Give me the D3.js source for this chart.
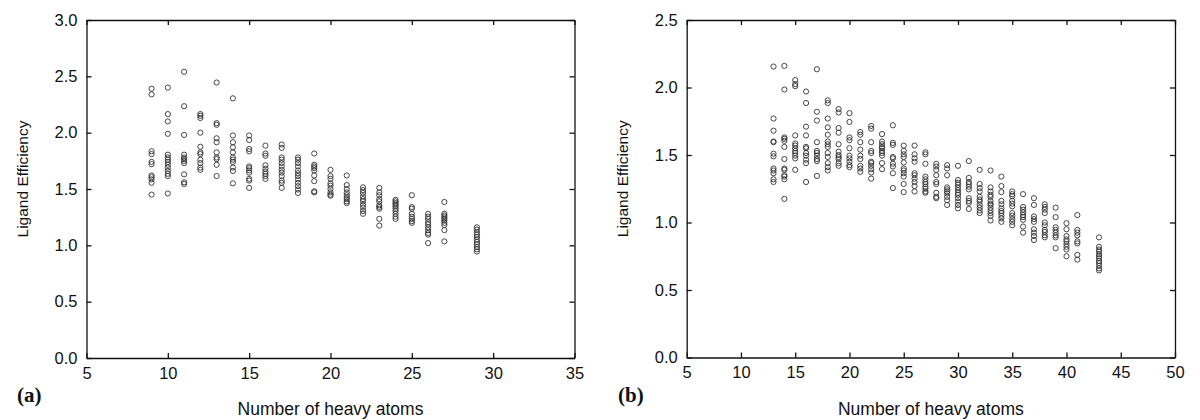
<!DOCTYPE html>
<html lang="en">
<head>
    <meta charset="UTF-8">
    <title>Ligand efficiency vs heavy atoms</title>
    <script src="https://cdnjs.cloudflare.com/ajax/libs/d3/7.8.5/d3.min.js"></script>
    <style>
        body {
            margin: 0;
            padding: 0;
            background: #fff;
        }
        svg text {
            font-family: "Liberation Sans", Arial, sans-serif;
            fill: #111;
        }
        .tick text {
            font-size: 16.5px;
        }
        .axis path, .axis line {
            stroke: #111;
            stroke-width: 1.3px;
        }
        .pt {
            fill: none;
            stroke: #333;
            stroke-width: 0.9px;
        }
        .panel-label {
            font-family: "Liberation Serif", "DejaVu Serif", serif !important;
            font-weight: bold;
            font-size: 21px;
        }
    </style>
</head>
<body>
<div id="chart"></div>
<script>
    // panel (a)
    const atomsA = [9, 10, 11, 12, 13, 14, 15, 16, 17, 18, 19, 20, 21, 22, 23, 24, 25, 26, 27, 29];
    const effA = [
        [2.39, 2.34, 1.835, 1.81, 1.74, 1.72, 1.62, 1.605, 1.585, 1.555, 1.45],
        [2.40, 2.165, 2.10, 1.99, 1.805, 1.78, 1.76, 1.74, 1.715, 1.69, 1.66, 1.635, 1.615, 1.46],
        [2.54, 2.235, 1.98, 1.805, 1.78, 1.765, 1.75, 1.73, 1.63, 1.56, 1.545],
        [2.165, 2.15, 2.13, 2.00, 1.875, 1.825, 1.81, 1.76, 1.73, 1.69, 1.67],
        [2.445, 2.085, 2.07, 1.95, 1.915, 1.825, 1.78, 1.765, 1.715, 1.615],
        [2.305, 1.975, 1.915, 1.87, 1.825, 1.78, 1.76, 1.74, 1.69, 1.66, 1.55],
        [1.975, 1.935, 1.855, 1.835, 1.70, 1.685, 1.665, 1.645, 1.59, 1.575, 1.51],
        [1.885, 1.815, 1.795, 1.71, 1.68, 1.655, 1.635, 1.615, 1.59],
        [1.895, 1.865, 1.78, 1.76, 1.73, 1.70, 1.67, 1.645, 1.615, 1.575, 1.555, 1.51],
        [1.78, 1.76, 1.73, 1.70, 1.665, 1.64, 1.615, 1.585, 1.555, 1.525, 1.495, 1.465],
        [1.815, 1.715, 1.70, 1.685, 1.665, 1.62, 1.57, 1.48, 1.47],
        [1.67, 1.615, 1.59, 1.55, 1.53, 1.50, 1.47, 1.45, 1.44],
        [1.62, 1.535, 1.50, 1.47, 1.445, 1.425, 1.41, 1.39, 1.375],
        [1.515, 1.49, 1.465, 1.435, 1.41, 1.39, 1.36, 1.335, 1.305, 1.28],
        [1.51, 1.47, 1.445, 1.41, 1.39, 1.355, 1.34, 1.325, 1.235, 1.175],
        [1.405, 1.39, 1.375, 1.36, 1.345, 1.325, 1.305, 1.28, 1.255, 1.235],
        [1.445, 1.34, 1.325, 1.28, 1.255, 1.235, 1.215, 1.20],
        [1.28, 1.255, 1.235, 1.205, 1.185, 1.16, 1.135, 1.11, 1.095, 1.02],
        [1.385, 1.28, 1.265, 1.25, 1.235, 1.22, 1.20, 1.18, 1.135, 1.035],
        [1.16, 1.14, 1.115, 1.095, 1.075, 1.05, 1.03, 1.01, 0.985, 0.965, 0.945]
    ];
    const xTicksA = [5, 10, 15, 20, 25, 30, 35];
    const yTicksA = [0, 0.5, 1.0, 1.5, 2.0, 2.5, 3.0];

    // panel (b)
    const atomsB = [13, 14, 15, 16, 17, 18, 19, 20, 21, 22, 23, 24, 25, 26, 27, 28, 29, 30,
                    31, 32, 33, 34, 35, 36, 37, 38, 39, 40, 41, 43];
    const effB = [
        [2.155, 1.77, 1.68, 1.60, 1.595, 1.51, 1.49, 1.40, 1.385, 1.365, 1.32, 1.30],
        [2.16, 1.985, 1.63, 1.62, 1.605, 1.56, 1.47, 1.40, 1.39, 1.35, 1.34, 1.32, 1.175],
        [2.055, 2.025, 2.01, 1.645, 1.585, 1.57, 1.55, 1.53, 1.515, 1.495, 1.475, 1.39],
        [1.97, 1.885, 1.71, 1.645, 1.56, 1.55, 1.515, 1.495, 1.465, 1.44, 1.30],
        [2.135, 1.82, 1.755, 1.595, 1.53, 1.515, 1.495, 1.47, 1.455, 1.345],
        [1.905, 1.885, 1.77, 1.705, 1.65, 1.60, 1.58, 1.56, 1.515, 1.485, 1.44, 1.41, 1.385],
        [1.84, 1.815, 1.70, 1.665, 1.58, 1.525, 1.50, 1.485, 1.47, 1.44, 1.42],
        [1.81, 1.745, 1.63, 1.61, 1.55, 1.495, 1.475, 1.45, 1.425, 1.41],
        [1.67, 1.65, 1.595, 1.54, 1.495, 1.47, 1.42, 1.40, 1.375],
        [1.715, 1.695, 1.595, 1.53, 1.515, 1.45, 1.44, 1.42, 1.395, 1.37, 1.325],
        [1.655, 1.60, 1.58, 1.56, 1.55, 1.53, 1.515, 1.495, 1.44, 1.395],
        [1.72, 1.59, 1.575, 1.485, 1.475, 1.435, 1.415, 1.365, 1.255],
        [1.57, 1.53, 1.505, 1.485, 1.445, 1.40, 1.385, 1.365, 1.34, 1.285, 1.225],
        [1.57, 1.505, 1.475, 1.45, 1.365, 1.35, 1.325, 1.30, 1.27, 1.23],
        [1.52, 1.505, 1.435, 1.34, 1.32, 1.30, 1.285, 1.265, 1.25, 1.23, 1.22],
        [1.435, 1.415, 1.39, 1.35, 1.30, 1.285, 1.22, 1.19, 1.18],
        [1.425, 1.40, 1.35, 1.26, 1.245, 1.23, 1.215, 1.19, 1.165, 1.13],
        [1.42, 1.315, 1.295, 1.28, 1.26, 1.24, 1.22, 1.205, 1.18, 1.155, 1.13, 1.105],
        [1.455, 1.33, 1.30, 1.285, 1.265, 1.245, 1.18, 1.16, 1.145, 1.10],
        [1.39, 1.285, 1.255, 1.23, 1.19, 1.17, 1.155, 1.13, 1.11, 1.09, 1.07],
        [1.385, 1.26, 1.23, 1.205, 1.19, 1.16, 1.14, 1.13, 1.11, 1.09, 1.07, 1.05, 1.015],
        [1.34, 1.27, 1.225, 1.16, 1.135, 1.105, 1.085, 1.07, 1.05, 1.03, 1.005],
        [1.23, 1.21, 1.195, 1.16, 1.14, 1.12, 1.07, 1.05, 1.025, 1.005, 0.98],
        [1.21, 1.115, 1.095, 1.075, 1.055, 1.04, 1.02, 0.97, 0.925],
        [1.18, 1.13, 1.045, 1.025, 1.005, 0.95, 0.925, 0.90, 0.87],
        [1.135, 1.115, 1.095, 1.07, 1.00, 0.98, 0.945, 0.93, 0.905, 0.89],
        [1.11, 1.04, 0.965, 0.945, 0.925, 0.905, 0.89, 0.81],
        [0.995, 0.95, 0.90, 0.875, 0.86, 0.84, 0.82, 0.80, 0.75],
        [1.055, 0.945, 0.925, 0.905, 0.86, 0.845, 0.76, 0.725],
        [0.89, 0.82, 0.80, 0.785, 0.765, 0.75, 0.735, 0.715, 0.70, 0.68, 0.66, 0.645]
    ];
    const xTicksB = [5, 10, 15, 20, 25, 30, 35, 40, 45, 50];
    const yTicksB = [0, 0.5, 1.0, 1.5, 2.0, 2.5];

    const W = 1200, H = 420;
    const svg = d3.select("#chart").append("svg")
        .attr("width", W)
        .attr("height", H);

    function drawPanel(opts) {
        const { left, right, top, bottom, atoms, eff, xTicks, yTicks, label, offset } = opts;

        const x = d3.scaleLinear()
            .domain([xTicks[0], xTicks[xTicks.length - 1]])
            .range([left, right]);
        const y = d3.scaleLinear()
            .domain([yTicks[0], yTicks[yTicks.length - 1]])
            .range([bottom, top]);

        const g = svg.append("g");

        // ticks point inward on all four sides
        g.append("g").attr("class", "axis")
            .attr("transform", `translate(0,${bottom})`)
            .call(d3.axisBottom(x).tickValues(xTicks).tickSize(-5).tickSizeOuter(0).tickPadding(9));
        g.append("g").attr("class", "axis")
            .attr("transform", `translate(0,${top})`)
            .call(d3.axisTop(x).tickValues(xTicks).tickSize(-5).tickSizeOuter(0).tickFormat(""));
        g.append("g").attr("class", "axis")
            .attr("transform", `translate(${left},0)`)
            .call(d3.axisLeft(y).tickValues(yTicks).tickSize(-5).tickSizeOuter(0)
                .tickPadding(9).tickFormat(d3.format(".1f")));
        g.append("g").attr("class", "axis")
            .attr("transform", `translate(${right},0)`)
            .call(d3.axisRight(y).tickValues(yTicks).tickSize(-5).tickSizeOuter(0).tickFormat(""));

        g.selectAll(".axis .tick text").attr("fill", "#111");

        // flatten columns into points
        const pts = [];
        atoms.forEach((a, i) => eff[i].forEach(v => pts.push({ a, v })));

        g.selectAll("circle.pt")
            .data(pts)
            .enter().append("circle")
            .attr("class", "pt")
            .attr("cx", d => x(d.a))
            .attr("cy", d => y(d.v))
            .attr("r", 2.6);

        g.append("text")
            .attr("transform", `translate(${left - 59},${(top + bottom) / 2 - 10}) rotate(-90)`)
            .attr("text-anchor", "middle")
            .style("font-size", "15.5px")
            .text("Ligand Efficiency");

        g.append("text")
            .attr("x", (left + right) / 2)
            .attr("y", 415)
            .attr("text-anchor", "middle")
            .style("font-size", "17.5px")
            .text("Number of heavy atoms");

        g.append("text")
            .attr("class", "panel-label")
            .attr("x", offset + 17)
            .attr("y", 402)
            .text(label);
    }

    drawPanel({
        left: 86.5, right: 574.5, top: 20, bottom: 358,
        atoms: atomsA, eff: effA, xTicks: xTicksA, yTicks: yTicksA,
        label: "(a)", offset: 0
    });

    drawPanel({
        left: 686.7, right: 1175, top: 20, bottom: 357.5,
        atoms: atomsB, eff: effB, xTicks: xTicksB, yTicks: yTicksB,
        label: "(b)", offset: 601
    });
</script>
</body>
</html>
